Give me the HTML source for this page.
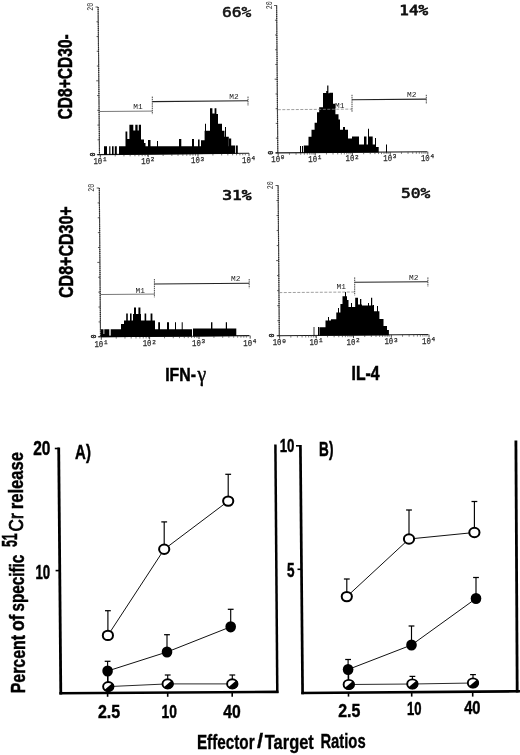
<!DOCTYPE html>
<html lang="en"><head><meta charset="utf-8"><title>Figure</title>
<style>html,body{margin:0;padding:0;background:#fff}svg{display:block;filter:blur(0.35px)}</style></head><body>
<svg width="520" height="755" viewBox="0 0 520 755">
<rect width="520" height="755" fill="#fff"/>
<line x1="98.10" y1="7.00" x2="99.50" y2="154.60" stroke="#666" stroke-width="1.1" />
<line x1="98.10" y1="7.00" x2="99.50" y2="154.60" stroke="#222" stroke-width="1.1" stroke-dasharray="1 1.1"/>
<line x1="95.50" y1="7.00" x2="98.10" y2="7.00" stroke="#333" stroke-width="0.8" />
<line x1="96.44" y1="21.76" x2="98.24" y2="21.76" stroke="#333" stroke-width="0.8" />
<line x1="96.58" y1="36.52" x2="98.38" y2="36.52" stroke="#333" stroke-width="0.8" />
<line x1="96.72" y1="51.28" x2="98.52" y2="51.28" stroke="#333" stroke-width="0.8" />
<line x1="96.86" y1="66.04" x2="98.66" y2="66.04" stroke="#333" stroke-width="0.8" />
<line x1="96.20" y1="80.80" x2="98.80" y2="80.80" stroke="#333" stroke-width="0.8" />
<line x1="97.14" y1="95.56" x2="98.94" y2="95.56" stroke="#333" stroke-width="0.8" />
<line x1="97.28" y1="110.32" x2="99.08" y2="110.32" stroke="#333" stroke-width="0.8" />
<line x1="97.42" y1="125.08" x2="99.22" y2="125.08" stroke="#333" stroke-width="0.8" />
<line x1="97.56" y1="139.84" x2="99.36" y2="139.84" stroke="#333" stroke-width="0.8" />
<line x1="96.90" y1="154.60" x2="99.50" y2="154.60" stroke="#333" stroke-width="0.8" />
<line x1="97.50" y1="154.62" x2="249.00" y2="153.18" stroke="#1a1a1a" stroke-width="1.1" />
<line x1="115.22" y1="154.45" x2="115.22" y2="156.45" stroke="#444" stroke-width="0.7" />
<line x1="123.95" y1="154.37" x2="123.95" y2="156.37" stroke="#444" stroke-width="0.7" />
<line x1="130.14" y1="154.31" x2="130.14" y2="156.31" stroke="#444" stroke-width="0.7" />
<line x1="134.95" y1="154.26" x2="134.95" y2="156.26" stroke="#444" stroke-width="0.7" />
<line x1="138.87" y1="154.23" x2="138.87" y2="156.23" stroke="#444" stroke-width="0.7" />
<line x1="142.19" y1="154.19" x2="142.19" y2="156.19" stroke="#444" stroke-width="0.7" />
<line x1="145.06" y1="154.17" x2="145.06" y2="156.17" stroke="#444" stroke-width="0.7" />
<line x1="147.60" y1="154.14" x2="147.60" y2="156.14" stroke="#444" stroke-width="0.7" />
<line x1="163.12" y1="154.00" x2="163.12" y2="156.00" stroke="#444" stroke-width="0.7" />
<line x1="171.85" y1="153.91" x2="171.85" y2="155.91" stroke="#444" stroke-width="0.7" />
<line x1="178.04" y1="153.85" x2="178.04" y2="155.85" stroke="#444" stroke-width="0.7" />
<line x1="182.85" y1="153.81" x2="182.85" y2="155.81" stroke="#444" stroke-width="0.7" />
<line x1="186.77" y1="153.77" x2="186.77" y2="155.77" stroke="#444" stroke-width="0.7" />
<line x1="190.09" y1="153.74" x2="190.09" y2="155.74" stroke="#444" stroke-width="0.7" />
<line x1="192.96" y1="153.71" x2="192.96" y2="155.71" stroke="#444" stroke-width="0.7" />
<line x1="195.50" y1="153.69" x2="195.50" y2="155.69" stroke="#444" stroke-width="0.7" />
<line x1="212.92" y1="153.52" x2="212.92" y2="155.52" stroke="#444" stroke-width="0.7" />
<line x1="221.65" y1="153.44" x2="221.65" y2="155.44" stroke="#444" stroke-width="0.7" />
<line x1="227.84" y1="153.38" x2="227.84" y2="155.38" stroke="#444" stroke-width="0.7" />
<line x1="232.65" y1="153.34" x2="232.65" y2="155.34" stroke="#444" stroke-width="0.7" />
<line x1="236.57" y1="153.30" x2="236.57" y2="155.30" stroke="#444" stroke-width="0.7" />
<line x1="239.89" y1="153.27" x2="239.89" y2="155.27" stroke="#444" stroke-width="0.7" />
<line x1="242.76" y1="153.24" x2="242.76" y2="155.24" stroke="#444" stroke-width="0.7" />
<line x1="245.30" y1="153.21" x2="245.30" y2="155.21" stroke="#444" stroke-width="0.7" />
<line x1="100.30" y1="154.59" x2="100.30" y2="157.59" stroke="#333" stroke-width="0.9" />
<line x1="148.20" y1="154.14" x2="148.20" y2="157.14" stroke="#333" stroke-width="0.9" />
<line x1="198.00" y1="153.66" x2="198.00" y2="156.66" stroke="#333" stroke-width="0.9" />
<line x1="249.00" y1="153.18" x2="249.00" y2="156.18" stroke="#333" stroke-width="0.9" />
<text x="93.4" y="164.2" font-family="'Liberation Mono', monospace" font-size="9" fill="#2a2a2a" stroke="#2a2a2a" stroke-width="0.25"><tspan textLength="8.8" lengthAdjust="spacingAndGlyphs">10</tspan><tspan x="102.9" dy="-2.8" font-size="6">1</tspan></text>
<text x="141.3" y="163.7" font-family="'Liberation Mono', monospace" font-size="9" fill="#2a2a2a" stroke="#2a2a2a" stroke-width="0.25"><tspan textLength="8.8" lengthAdjust="spacingAndGlyphs">10</tspan><tspan x="150.8" dy="-2.8" font-size="6">2</tspan></text>
<text x="191.1" y="163.3" font-family="'Liberation Mono', monospace" font-size="9" fill="#2a2a2a" stroke="#2a2a2a" stroke-width="0.25"><tspan textLength="8.8" lengthAdjust="spacingAndGlyphs">10</tspan><tspan x="200.6" dy="-2.8" font-size="6">3</tspan></text>
<text x="242.1" y="162.8" font-family="'Liberation Mono', monospace" font-size="9" fill="#2a2a2a" stroke="#2a2a2a" stroke-width="0.25"><tspan textLength="8.8" lengthAdjust="spacingAndGlyphs">10</tspan><tspan x="251.6" dy="-2.8" font-size="6">4</tspan></text>
<text transform="matrix(0.0000 -0.0333 0.0426 0.0000 93.0125 10.8000)" font-family="'Liberation Mono', monospace" font-size="200" font-weight="normal" fill="#333">20</text>
<text transform="matrix(0.0000 -0.0333 0.0382 0.0000 94.6235 156.4000)" font-family="'Liberation Mono', monospace" font-size="200" font-weight="normal" fill="#222" stroke="#222" stroke-width="11.18">0</text>
<path d="M104.00 154.96L104.00 146.30L107.00 146.30L107.00 154.93ZM109.20 154.91L109.20 146.30L110.40 146.30L110.40 154.90ZM112.00 154.88L112.00 146.30L113.60 146.30L113.60 154.87ZM114.80 154.85L114.80 146.30L116.80 146.30L116.80 154.84ZM119.00 154.81L119.00 146.30L125.50 146.30L125.50 131.50L127.30 131.50L127.30 139.00L129.40 139.00L129.40 124.80L133.30 124.80L133.30 130.50L135.30 130.50L135.30 124.80L137.60 124.80L137.60 130.50L138.80 130.50L138.80 124.80L141.00 124.80L141.00 139.50L144.00 139.50L144.00 143.00L145.50 143.00L145.50 146.30L148.00 146.30L148.00 140.00L150.50 140.00L150.50 146.30L157.00 146.30L157.00 141.00L158.00 141.00L158.00 146.30L179.00 146.30L179.00 139.00L181.30 139.00L181.30 146.30L192.00 146.30L192.00 139.00L194.00 139.00L194.00 146.30L198.00 146.30L198.00 139.50L199.60 139.50L199.60 146.30L201.00 146.30L201.00 140.20L204.60 140.20L204.60 130.70L205.00 130.70L205.00 123.70L206.00 123.70L206.00 130.70L210.00 130.70L210.00 108.20L212.40 108.20L212.40 113.40L214.60 113.40L214.60 108.20L216.40 108.20L216.40 114.00L218.00 114.00L218.00 123.70L222.00 123.70L222.00 130.70L224.50 130.70L224.50 136.70L225.00 136.70L225.00 127.00L226.00 127.00L226.00 136.70L228.80 136.70L228.80 146.30L229.00 146.30L229.00 138.40L231.20 138.40L231.20 145.40L235.00 145.40L235.00 153.71ZM235.80 153.71L235.80 145.40L237.80 145.40L237.80 153.69Z" fill="#000"/>
<line x1="99.50" y1="111.51" x2="152.30" y2="111.09" stroke="#555" stroke-width="0.8" />
<line x1="152.30" y1="101.58" x2="248.00" y2="100.82" stroke="#222" stroke-width="1.1" />
<line x1="152.30" y1="96.60" x2="152.30" y2="114.30" stroke="#333" stroke-width="0.9" stroke-dasharray="1.5 0.7"/>
<line x1="248.00" y1="96.60" x2="248.00" y2="105.80" stroke="#333" stroke-width="0.9" stroke-dasharray="1.5 0.7"/>
<text x="133.2" y="109.2" font-family="'Liberation Mono', monospace" font-size="7" fill="#222" textLength="9.4" lengthAdjust="spacingAndGlyphs">M1</text>
<text x="229.2" y="98.8" font-family="'Liberation Mono', monospace" font-size="7" fill="#222" textLength="9.4" lengthAdjust="spacingAndGlyphs">M2</text>
<text transform="matrix(0.0816 0.0000 0.0000 0.0659 221.8750 16.5273)" font-family="'DejaVu Sans Mono', monospace" font-size="200" font-weight="normal" fill="#111" stroke="#111" stroke-width="7.46">66%</text>
<line x1="276.62" y1="5.50" x2="277.80" y2="152.90" stroke="#666" stroke-width="1.1" />
<line x1="276.62" y1="5.50" x2="277.80" y2="152.90" stroke="#222" stroke-width="1.1" stroke-dasharray="1 1.1"/>
<line x1="274.02" y1="5.50" x2="276.62" y2="5.50" stroke="#333" stroke-width="0.8" />
<line x1="274.94" y1="20.24" x2="276.74" y2="20.24" stroke="#333" stroke-width="0.8" />
<line x1="275.06" y1="34.98" x2="276.86" y2="34.98" stroke="#333" stroke-width="0.8" />
<line x1="275.17" y1="49.72" x2="276.97" y2="49.72" stroke="#333" stroke-width="0.8" />
<line x1="275.29" y1="64.46" x2="277.09" y2="64.46" stroke="#333" stroke-width="0.8" />
<line x1="274.61" y1="79.20" x2="277.21" y2="79.20" stroke="#333" stroke-width="0.8" />
<line x1="275.53" y1="93.94" x2="277.33" y2="93.94" stroke="#333" stroke-width="0.8" />
<line x1="275.65" y1="108.68" x2="277.45" y2="108.68" stroke="#333" stroke-width="0.8" />
<line x1="275.76" y1="123.42" x2="277.56" y2="123.42" stroke="#333" stroke-width="0.8" />
<line x1="275.88" y1="138.16" x2="277.68" y2="138.16" stroke="#333" stroke-width="0.8" />
<line x1="275.20" y1="152.90" x2="277.80" y2="152.90" stroke="#333" stroke-width="0.8" />
<line x1="275.80" y1="152.92" x2="427.30" y2="151.70" stroke="#1a1a1a" stroke-width="1.1" />
<line x1="289.46" y1="152.81" x2="289.46" y2="154.81" stroke="#444" stroke-width="0.7" />
<line x1="296.04" y1="152.75" x2="296.04" y2="154.75" stroke="#444" stroke-width="0.7" />
<line x1="300.72" y1="152.72" x2="300.72" y2="154.72" stroke="#444" stroke-width="0.7" />
<line x1="304.34" y1="152.69" x2="304.34" y2="154.69" stroke="#444" stroke-width="0.7" />
<line x1="307.30" y1="152.66" x2="307.30" y2="154.66" stroke="#444" stroke-width="0.7" />
<line x1="309.81" y1="152.64" x2="309.81" y2="154.64" stroke="#444" stroke-width="0.7" />
<line x1="311.98" y1="152.63" x2="311.98" y2="154.63" stroke="#444" stroke-width="0.7" />
<line x1="313.89" y1="152.61" x2="313.89" y2="154.61" stroke="#444" stroke-width="0.7" />
<line x1="326.46" y1="152.51" x2="326.46" y2="154.51" stroke="#444" stroke-width="0.7" />
<line x1="333.04" y1="152.46" x2="333.04" y2="154.46" stroke="#444" stroke-width="0.7" />
<line x1="337.72" y1="152.42" x2="337.72" y2="154.42" stroke="#444" stroke-width="0.7" />
<line x1="341.34" y1="152.39" x2="341.34" y2="154.39" stroke="#444" stroke-width="0.7" />
<line x1="344.30" y1="152.37" x2="344.30" y2="154.37" stroke="#444" stroke-width="0.7" />
<line x1="346.81" y1="152.35" x2="346.81" y2="154.35" stroke="#444" stroke-width="0.7" />
<line x1="348.98" y1="152.33" x2="348.98" y2="154.33" stroke="#444" stroke-width="0.7" />
<line x1="350.89" y1="152.32" x2="350.89" y2="154.32" stroke="#444" stroke-width="0.7" />
<line x1="363.66" y1="152.21" x2="363.66" y2="154.21" stroke="#444" stroke-width="0.7" />
<line x1="370.24" y1="152.16" x2="370.24" y2="154.16" stroke="#444" stroke-width="0.7" />
<line x1="374.92" y1="152.12" x2="374.92" y2="154.12" stroke="#444" stroke-width="0.7" />
<line x1="378.54" y1="152.09" x2="378.54" y2="154.09" stroke="#444" stroke-width="0.7" />
<line x1="381.50" y1="152.07" x2="381.50" y2="154.07" stroke="#444" stroke-width="0.7" />
<line x1="384.01" y1="152.05" x2="384.01" y2="154.05" stroke="#444" stroke-width="0.7" />
<line x1="386.18" y1="152.03" x2="386.18" y2="154.03" stroke="#444" stroke-width="0.7" />
<line x1="388.09" y1="152.02" x2="388.09" y2="154.02" stroke="#444" stroke-width="0.7" />
<line x1="401.46" y1="151.91" x2="401.46" y2="153.91" stroke="#444" stroke-width="0.7" />
<line x1="408.04" y1="151.86" x2="408.04" y2="153.86" stroke="#444" stroke-width="0.7" />
<line x1="412.72" y1="151.82" x2="412.72" y2="153.82" stroke="#444" stroke-width="0.7" />
<line x1="416.34" y1="151.79" x2="416.34" y2="153.79" stroke="#444" stroke-width="0.7" />
<line x1="419.30" y1="151.77" x2="419.30" y2="153.77" stroke="#444" stroke-width="0.7" />
<line x1="421.81" y1="151.75" x2="421.81" y2="153.75" stroke="#444" stroke-width="0.7" />
<line x1="423.98" y1="151.73" x2="423.98" y2="153.73" stroke="#444" stroke-width="0.7" />
<line x1="425.89" y1="151.72" x2="425.89" y2="153.72" stroke="#444" stroke-width="0.7" />
<line x1="278.20" y1="152.90" x2="278.20" y2="155.90" stroke="#333" stroke-width="0.9" />
<line x1="315.20" y1="152.60" x2="315.20" y2="155.60" stroke="#333" stroke-width="0.9" />
<line x1="352.40" y1="152.30" x2="352.40" y2="155.30" stroke="#333" stroke-width="0.9" />
<line x1="390.20" y1="152.00" x2="390.20" y2="155.00" stroke="#333" stroke-width="0.9" />
<line x1="427.80" y1="151.70" x2="427.80" y2="154.70" stroke="#333" stroke-width="0.9" />
<text x="271.3" y="161.9" font-family="'Liberation Mono', monospace" font-size="9" fill="#2a2a2a" stroke="#2a2a2a" stroke-width="0.25"><tspan textLength="8.8" lengthAdjust="spacingAndGlyphs">10</tspan><tspan x="280.8" dy="-2.8" font-size="6">0</tspan></text>
<text x="308.3" y="161.6" font-family="'Liberation Mono', monospace" font-size="9" fill="#2a2a2a" stroke="#2a2a2a" stroke-width="0.25"><tspan textLength="8.8" lengthAdjust="spacingAndGlyphs">10</tspan><tspan x="317.8" dy="-2.8" font-size="6">1</tspan></text>
<text x="345.5" y="161.3" font-family="'Liberation Mono', monospace" font-size="9" fill="#2a2a2a" stroke="#2a2a2a" stroke-width="0.25"><tspan textLength="8.8" lengthAdjust="spacingAndGlyphs">10</tspan><tspan x="355.0" dy="-2.8" font-size="6">2</tspan></text>
<text x="383.3" y="161.0" font-family="'Liberation Mono', monospace" font-size="9" fill="#2a2a2a" stroke="#2a2a2a" stroke-width="0.25"><tspan textLength="8.8" lengthAdjust="spacingAndGlyphs">10</tspan><tspan x="392.8" dy="-2.8" font-size="6">3</tspan></text>
<text x="420.9" y="160.7" font-family="'Liberation Mono', monospace" font-size="9" fill="#2a2a2a" stroke="#2a2a2a" stroke-width="0.25"><tspan textLength="8.8" lengthAdjust="spacingAndGlyphs">10</tspan><tspan x="430.4" dy="-2.8" font-size="6">4</tspan></text>
<text transform="matrix(0.0000 -0.0333 0.0426 0.0000 271.5355 9.3000)" font-family="'Liberation Mono', monospace" font-size="200" font-weight="normal" fill="#333">20</text>
<text transform="matrix(0.0000 -0.0333 0.0382 0.0000 272.9235 154.7000)" font-family="'Liberation Mono', monospace" font-size="200" font-weight="normal" fill="#222" stroke="#222" stroke-width="11.18">0</text>
<path d="M300.00 153.12L300.00 146.00L301.00 146.00L301.00 153.11ZM302.00 153.11L302.00 146.00L303.00 146.00L303.00 153.10ZM303.80 153.09L303.80 145.50L308.50 145.50L308.50 136.80L311.50 136.80L311.50 129.70L314.60 129.70L314.60 122.80L317.00 122.80L317.00 112.20L319.20 112.20L319.20 107.20L323.00 107.20L323.00 93.00L326.20 93.00L326.20 91.00L327.20 91.00L327.20 85.40L328.40 85.40L328.40 93.20L329.40 93.20L329.40 92.80L333.00 92.80L333.00 103.80L335.40 103.80L335.40 114.20L338.50 114.20L338.50 119.60L340.00 119.60L340.00 129.70L343.00 129.70L343.00 127.00L345.00 127.00L345.00 129.70L348.00 129.70L348.00 138.40L352.00 138.40L352.00 136.60L359.00 136.60L359.00 144.40L364.00 144.40L364.00 136.60L366.50 136.60L366.50 144.40L368.00 144.40L368.00 128.80L369.00 128.80L369.00 136.60L372.70 136.60L372.70 144.40L375.00 144.40L375.00 138.00L376.00 138.00L376.00 147.00L378.70 147.00L378.70 152.49ZM386.00 152.43L386.00 144.40L387.00 144.40L387.00 152.43Z" fill="#000"/>
<line x1="277.80" y1="109.70" x2="352.00" y2="109.10" stroke="#888" stroke-width="0.8" stroke-dasharray="3 1.5"/>
<line x1="352.00" y1="99.70" x2="426.30" y2="99.10" stroke="#222" stroke-width="1.1" />
<line x1="352.00" y1="94.80" x2="352.00" y2="112.40" stroke="#333" stroke-width="0.9" stroke-dasharray="1.5 0.7"/>
<line x1="426.30" y1="94.80" x2="426.30" y2="104.00" stroke="#333" stroke-width="0.9" stroke-dasharray="1.5 0.7"/>
<text x="335" y="107.8" font-family="'Liberation Mono', monospace" font-size="7" fill="#222" textLength="9.4" lengthAdjust="spacingAndGlyphs">M1</text>
<text x="407" y="97.2" font-family="'Liberation Mono', monospace" font-size="7" fill="#222" textLength="9.4" lengthAdjust="spacingAndGlyphs">M2</text>
<text transform="matrix(0.0801 0.0000 0.0000 0.0747 399.3000 15.2000)" font-family="'DejaVu Sans Mono', monospace" font-size="200" font-weight="normal" fill="#111" stroke="#111" stroke-width="10.34">14%</text>
<line x1="99.31" y1="188.00" x2="100.50" y2="336.80" stroke="#666" stroke-width="1.1" />
<line x1="99.31" y1="188.00" x2="100.50" y2="336.80" stroke="#222" stroke-width="1.1" stroke-dasharray="1 1.1"/>
<line x1="96.71" y1="188.00" x2="99.31" y2="188.00" stroke="#333" stroke-width="0.8" />
<line x1="97.63" y1="202.88" x2="99.43" y2="202.88" stroke="#333" stroke-width="0.8" />
<line x1="97.75" y1="217.76" x2="99.55" y2="217.76" stroke="#333" stroke-width="0.8" />
<line x1="97.87" y1="232.64" x2="99.67" y2="232.64" stroke="#333" stroke-width="0.8" />
<line x1="97.99" y1="247.52" x2="99.79" y2="247.52" stroke="#333" stroke-width="0.8" />
<line x1="97.30" y1="262.40" x2="99.90" y2="262.40" stroke="#333" stroke-width="0.8" />
<line x1="98.22" y1="277.28" x2="100.02" y2="277.28" stroke="#333" stroke-width="0.8" />
<line x1="98.34" y1="292.16" x2="100.14" y2="292.16" stroke="#333" stroke-width="0.8" />
<line x1="98.46" y1="307.04" x2="100.26" y2="307.04" stroke="#333" stroke-width="0.8" />
<line x1="98.58" y1="321.92" x2="100.38" y2="321.92" stroke="#333" stroke-width="0.8" />
<line x1="97.90" y1="336.80" x2="100.50" y2="336.80" stroke="#333" stroke-width="0.8" />
<line x1="98.50" y1="336.82" x2="249.50" y2="335.61" stroke="#1a1a1a" stroke-width="1.1" />
<line x1="116.24" y1="336.67" x2="116.24" y2="338.67" stroke="#444" stroke-width="0.7" />
<line x1="124.98" y1="336.60" x2="124.98" y2="338.60" stroke="#444" stroke-width="0.7" />
<line x1="131.18" y1="336.55" x2="131.18" y2="338.55" stroke="#444" stroke-width="0.7" />
<line x1="135.99" y1="336.52" x2="135.99" y2="338.52" stroke="#444" stroke-width="0.7" />
<line x1="139.92" y1="336.48" x2="139.92" y2="338.48" stroke="#444" stroke-width="0.7" />
<line x1="143.25" y1="336.46" x2="143.25" y2="338.46" stroke="#444" stroke-width="0.7" />
<line x1="146.12" y1="336.44" x2="146.12" y2="338.44" stroke="#444" stroke-width="0.7" />
<line x1="148.66" y1="336.41" x2="148.66" y2="338.41" stroke="#444" stroke-width="0.7" />
<line x1="164.54" y1="336.29" x2="164.54" y2="338.29" stroke="#444" stroke-width="0.7" />
<line x1="173.28" y1="336.22" x2="173.28" y2="338.22" stroke="#444" stroke-width="0.7" />
<line x1="179.48" y1="336.17" x2="179.48" y2="338.17" stroke="#444" stroke-width="0.7" />
<line x1="184.29" y1="336.13" x2="184.29" y2="338.13" stroke="#444" stroke-width="0.7" />
<line x1="188.22" y1="336.10" x2="188.22" y2="338.10" stroke="#444" stroke-width="0.7" />
<line x1="191.55" y1="336.07" x2="191.55" y2="338.07" stroke="#444" stroke-width="0.7" />
<line x1="194.42" y1="336.05" x2="194.42" y2="338.05" stroke="#444" stroke-width="0.7" />
<line x1="196.96" y1="336.03" x2="196.96" y2="338.03" stroke="#444" stroke-width="0.7" />
<line x1="213.94" y1="335.89" x2="213.94" y2="337.89" stroke="#444" stroke-width="0.7" />
<line x1="222.68" y1="335.82" x2="222.68" y2="337.82" stroke="#444" stroke-width="0.7" />
<line x1="228.88" y1="335.77" x2="228.88" y2="337.77" stroke="#444" stroke-width="0.7" />
<line x1="233.69" y1="335.73" x2="233.69" y2="337.73" stroke="#444" stroke-width="0.7" />
<line x1="237.62" y1="335.70" x2="237.62" y2="337.70" stroke="#444" stroke-width="0.7" />
<line x1="240.95" y1="335.68" x2="240.95" y2="337.68" stroke="#444" stroke-width="0.7" />
<line x1="243.82" y1="335.65" x2="243.82" y2="337.65" stroke="#444" stroke-width="0.7" />
<line x1="246.36" y1="335.63" x2="246.36" y2="337.63" stroke="#444" stroke-width="0.7" />
<line x1="101.30" y1="336.79" x2="101.30" y2="339.79" stroke="#333" stroke-width="0.9" />
<line x1="149.60" y1="336.41" x2="149.60" y2="339.41" stroke="#333" stroke-width="0.9" />
<line x1="199.00" y1="336.01" x2="199.00" y2="339.01" stroke="#333" stroke-width="0.9" />
<line x1="250.20" y1="335.60" x2="250.20" y2="338.60" stroke="#333" stroke-width="0.9" />
<text x="94.4" y="346.8" font-family="'Liberation Mono', monospace" font-size="9" fill="#2a2a2a" stroke="#2a2a2a" stroke-width="0.25"><tspan textLength="8.8" lengthAdjust="spacingAndGlyphs">10</tspan><tspan x="103.9" dy="-2.8" font-size="6">1</tspan></text>
<text x="142.7" y="346.4" font-family="'Liberation Mono', monospace" font-size="9" fill="#2a2a2a" stroke="#2a2a2a" stroke-width="0.25"><tspan textLength="8.8" lengthAdjust="spacingAndGlyphs">10</tspan><tspan x="152.2" dy="-2.8" font-size="6">2</tspan></text>
<text x="192.1" y="346.0" font-family="'Liberation Mono', monospace" font-size="9" fill="#2a2a2a" stroke="#2a2a2a" stroke-width="0.25"><tspan textLength="8.8" lengthAdjust="spacingAndGlyphs">10</tspan><tspan x="201.6" dy="-2.8" font-size="6">3</tspan></text>
<text x="243.3" y="345.6" font-family="'Liberation Mono', monospace" font-size="9" fill="#2a2a2a" stroke="#2a2a2a" stroke-width="0.25"><tspan textLength="8.8" lengthAdjust="spacingAndGlyphs">10</tspan><tspan x="252.8" dy="-2.8" font-size="6">4</tspan></text>
<text transform="matrix(0.0000 -0.0333 0.0426 0.0000 94.2243 191.8000)" font-family="'Liberation Mono', monospace" font-size="200" font-weight="normal" fill="#333">20</text>
<text transform="matrix(0.0000 -0.0333 0.0382 0.0000 95.6235 338.6000)" font-family="'Liberation Mono', monospace" font-size="200" font-weight="normal" fill="#222" stroke="#222" stroke-width="11.18">0</text>
<path d="M101.00 337.20L101.00 329.20L121.00 329.20L121.00 324.00L124.00 324.00L124.00 320.50L126.20 320.50L126.20 313.60L127.80 313.60L127.80 320.50L130.00 320.50L130.00 313.60L131.60 313.60L131.60 320.50L133.00 320.50L133.00 314.00L134.00 314.00L134.00 307.60L136.00 307.60L136.00 314.00L138.40 314.00L138.40 307.60L140.40 307.60L140.40 314.00L141.00 314.00L141.00 320.50L144.60 320.50L144.60 313.60L146.20 313.60L146.20 320.50L150.60 320.50L150.60 313.60L152.40 313.60L152.40 320.50L155.00 320.50L155.00 329.20L158.20 329.20L158.20 322.30L160.00 322.30L160.00 329.20L167.00 329.20L167.00 322.30L169.00 322.30L169.00 329.20L175.00 329.20L175.00 322.30L176.00 322.30L176.00 329.20L181.70 329.20L181.70 322.30L182.70 322.30L182.70 329.20L192.00 329.20L192.00 336.47ZM193.00 336.46L193.00 328.60L211.00 328.60L211.00 322.30L212.40 322.30L212.40 328.60L225.80 328.60L225.80 322.30L227.00 322.30L227.00 328.60L236.30 328.60L236.30 336.11Z" fill="#000"/>
<rect x="103.50" y="329.00" width="0.80" height="5.00" fill="#fff"/>
<rect x="109.30" y="329.00" width="1.40" height="6.60" fill="#fff"/>
<rect x="192.00" y="328.00" width="1.00" height="7.60" fill="#fff"/>
<line x1="100.50" y1="294.52" x2="154.40" y2="294.08" stroke="#555" stroke-width="0.8" />
<line x1="154.40" y1="283.98" x2="249.20" y2="283.22" stroke="#222" stroke-width="1.1" />
<line x1="154.40" y1="279.00" x2="154.40" y2="297.30" stroke="#333" stroke-width="0.9" stroke-dasharray="1.5 0.7"/>
<line x1="249.20" y1="279.00" x2="249.20" y2="288.20" stroke="#333" stroke-width="0.9" stroke-dasharray="1.5 0.7"/>
<text x="135.5" y="293" font-family="'Liberation Mono', monospace" font-size="7" fill="#222" textLength="9.4" lengthAdjust="spacingAndGlyphs">M1</text>
<text x="231" y="281.4" font-family="'Liberation Mono', monospace" font-size="7" fill="#222" textLength="9.4" lengthAdjust="spacingAndGlyphs">M2</text>
<text transform="matrix(0.0812 0.0000 0.0000 0.0702 222.3000 199.6894)" font-family="'DejaVu Sans Mono', monospace" font-size="200" font-weight="normal" fill="#111" stroke="#111" stroke-width="10.57">31%</text>
<line x1="278.10" y1="185.50" x2="279.30" y2="335.70" stroke="#666" stroke-width="1.1" />
<line x1="278.10" y1="185.50" x2="279.30" y2="335.70" stroke="#222" stroke-width="1.1" stroke-dasharray="1 1.1"/>
<line x1="275.50" y1="185.50" x2="278.10" y2="185.50" stroke="#333" stroke-width="0.8" />
<line x1="276.42" y1="200.52" x2="278.22" y2="200.52" stroke="#333" stroke-width="0.8" />
<line x1="276.54" y1="215.54" x2="278.34" y2="215.54" stroke="#333" stroke-width="0.8" />
<line x1="276.66" y1="230.56" x2="278.46" y2="230.56" stroke="#333" stroke-width="0.8" />
<line x1="276.78" y1="245.58" x2="278.58" y2="245.58" stroke="#333" stroke-width="0.8" />
<line x1="276.10" y1="260.60" x2="278.70" y2="260.60" stroke="#333" stroke-width="0.8" />
<line x1="277.02" y1="275.62" x2="278.82" y2="275.62" stroke="#333" stroke-width="0.8" />
<line x1="277.14" y1="290.64" x2="278.94" y2="290.64" stroke="#333" stroke-width="0.8" />
<line x1="277.26" y1="305.66" x2="279.06" y2="305.66" stroke="#333" stroke-width="0.8" />
<line x1="277.38" y1="320.68" x2="279.18" y2="320.68" stroke="#333" stroke-width="0.8" />
<line x1="276.70" y1="335.70" x2="279.30" y2="335.70" stroke="#333" stroke-width="0.8" />
<line x1="277.30" y1="335.72" x2="428.40" y2="334.51" stroke="#1a1a1a" stroke-width="1.1" />
<line x1="290.84" y1="335.61" x2="290.84" y2="337.61" stroke="#444" stroke-width="0.7" />
<line x1="297.42" y1="335.56" x2="297.42" y2="337.56" stroke="#444" stroke-width="0.7" />
<line x1="302.09" y1="335.52" x2="302.09" y2="337.52" stroke="#444" stroke-width="0.7" />
<line x1="305.71" y1="335.49" x2="305.71" y2="337.49" stroke="#444" stroke-width="0.7" />
<line x1="308.66" y1="335.47" x2="308.66" y2="337.47" stroke="#444" stroke-width="0.7" />
<line x1="311.16" y1="335.45" x2="311.16" y2="337.45" stroke="#444" stroke-width="0.7" />
<line x1="313.33" y1="335.43" x2="313.33" y2="337.43" stroke="#444" stroke-width="0.7" />
<line x1="315.24" y1="335.41" x2="315.24" y2="337.41" stroke="#444" stroke-width="0.7" />
<line x1="327.54" y1="335.31" x2="327.54" y2="337.31" stroke="#444" stroke-width="0.7" />
<line x1="334.12" y1="335.26" x2="334.12" y2="337.26" stroke="#444" stroke-width="0.7" />
<line x1="338.79" y1="335.22" x2="338.79" y2="337.22" stroke="#444" stroke-width="0.7" />
<line x1="342.41" y1="335.20" x2="342.41" y2="337.20" stroke="#444" stroke-width="0.7" />
<line x1="345.36" y1="335.17" x2="345.36" y2="337.17" stroke="#444" stroke-width="0.7" />
<line x1="347.86" y1="335.15" x2="347.86" y2="337.15" stroke="#444" stroke-width="0.7" />
<line x1="350.03" y1="335.13" x2="350.03" y2="337.13" stroke="#444" stroke-width="0.7" />
<line x1="351.94" y1="335.12" x2="351.94" y2="337.12" stroke="#444" stroke-width="0.7" />
<line x1="364.74" y1="335.02" x2="364.74" y2="337.02" stroke="#444" stroke-width="0.7" />
<line x1="371.32" y1="334.96" x2="371.32" y2="336.96" stroke="#444" stroke-width="0.7" />
<line x1="375.99" y1="334.93" x2="375.99" y2="336.93" stroke="#444" stroke-width="0.7" />
<line x1="379.61" y1="334.90" x2="379.61" y2="336.90" stroke="#444" stroke-width="0.7" />
<line x1="382.56" y1="334.87" x2="382.56" y2="336.87" stroke="#444" stroke-width="0.7" />
<line x1="385.06" y1="334.85" x2="385.06" y2="336.85" stroke="#444" stroke-width="0.7" />
<line x1="387.23" y1="334.84" x2="387.23" y2="336.84" stroke="#444" stroke-width="0.7" />
<line x1="389.14" y1="334.82" x2="389.14" y2="336.82" stroke="#444" stroke-width="0.7" />
<line x1="402.54" y1="334.71" x2="402.54" y2="336.71" stroke="#444" stroke-width="0.7" />
<line x1="409.12" y1="334.66" x2="409.12" y2="336.66" stroke="#444" stroke-width="0.7" />
<line x1="413.79" y1="334.62" x2="413.79" y2="336.62" stroke="#444" stroke-width="0.7" />
<line x1="417.41" y1="334.60" x2="417.41" y2="336.60" stroke="#444" stroke-width="0.7" />
<line x1="420.36" y1="334.57" x2="420.36" y2="336.57" stroke="#444" stroke-width="0.7" />
<line x1="422.86" y1="334.55" x2="422.86" y2="336.55" stroke="#444" stroke-width="0.7" />
<line x1="425.03" y1="334.53" x2="425.03" y2="336.53" stroke="#444" stroke-width="0.7" />
<line x1="426.94" y1="334.52" x2="426.94" y2="336.52" stroke="#444" stroke-width="0.7" />
<line x1="279.60" y1="335.70" x2="279.60" y2="338.70" stroke="#333" stroke-width="0.9" />
<line x1="316.30" y1="335.40" x2="316.30" y2="338.40" stroke="#333" stroke-width="0.9" />
<line x1="353.50" y1="335.11" x2="353.50" y2="338.11" stroke="#333" stroke-width="0.9" />
<line x1="391.30" y1="334.80" x2="391.30" y2="337.80" stroke="#333" stroke-width="0.9" />
<line x1="429.00" y1="334.50" x2="429.00" y2="337.50" stroke="#333" stroke-width="0.9" />
<text x="272.7" y="345.3" font-family="'Liberation Mono', monospace" font-size="9" fill="#2a2a2a" stroke="#2a2a2a" stroke-width="0.25"><tspan textLength="8.8" lengthAdjust="spacingAndGlyphs">10</tspan><tspan x="282.2" dy="-2.8" font-size="6">0</tspan></text>
<text x="309.4" y="345.0" font-family="'Liberation Mono', monospace" font-size="9" fill="#2a2a2a" stroke="#2a2a2a" stroke-width="0.25"><tspan textLength="8.8" lengthAdjust="spacingAndGlyphs">10</tspan><tspan x="318.9" dy="-2.8" font-size="6">1</tspan></text>
<text x="346.6" y="344.7" font-family="'Liberation Mono', monospace" font-size="9" fill="#2a2a2a" stroke="#2a2a2a" stroke-width="0.25"><tspan textLength="8.8" lengthAdjust="spacingAndGlyphs">10</tspan><tspan x="356.1" dy="-2.8" font-size="6">2</tspan></text>
<text x="384.4" y="344.4" font-family="'Liberation Mono', monospace" font-size="9" fill="#2a2a2a" stroke="#2a2a2a" stroke-width="0.25"><tspan textLength="8.8" lengthAdjust="spacingAndGlyphs">10</tspan><tspan x="393.9" dy="-2.8" font-size="6">3</tspan></text>
<text x="422.1" y="344.1" font-family="'Liberation Mono', monospace" font-size="9" fill="#2a2a2a" stroke="#2a2a2a" stroke-width="0.25"><tspan textLength="8.8" lengthAdjust="spacingAndGlyphs">10</tspan><tspan x="431.6" dy="-2.8" font-size="6">4</tspan></text>
<text transform="matrix(0.0000 -0.0333 0.0426 0.0000 273.0131 189.3000)" font-family="'Liberation Mono', monospace" font-size="200" font-weight="normal" fill="#333">20</text>
<text transform="matrix(0.0000 -0.0333 0.0382 0.0000 274.4235 337.5000)" font-family="'Liberation Mono', monospace" font-size="200" font-weight="normal" fill="#222" stroke="#222" stroke-width="11.18">0</text>
<path d="M313.60 335.83L313.60 327.00L314.40 327.00L314.40 335.82ZM318.00 335.79L318.00 327.00L319.00 327.00L319.00 335.78ZM319.40 335.78L319.40 327.30L325.50 327.30L325.50 320.60L328.00 320.60L328.00 317.00L329.00 317.00L329.00 320.60L331.00 320.60L331.00 319.20L336.30 319.20L336.30 312.50L338.00 312.50L338.00 308.00L339.00 308.00L339.00 312.50L340.40 312.50L340.40 304.00L342.50 304.00L342.50 296.30L345.00 296.30L345.00 292.00L346.00 292.00L346.00 296.30L347.00 296.30L347.00 300.00L348.50 300.00L348.50 307.00L351.00 307.00L351.00 303.00L352.00 303.00L352.00 307.00L355.20 307.00L355.20 297.70L358.00 297.70L358.00 304.40L360.00 304.40L360.00 299.00L361.30 299.00L361.30 304.40L362.00 304.40L362.00 305.50L368.00 305.50L368.00 303.00L369.00 303.00L369.00 305.50L371.00 305.50L371.00 297.70L372.20 297.70L372.20 305.50L372.70 305.50L372.70 305.00L374.00 305.00L374.00 311.20L377.00 311.20L377.00 306.00L378.00 306.00L378.00 311.20L379.40 311.20L379.40 319.00L383.50 319.00L383.50 326.00L387.00 326.00L387.00 330.00L388.90 330.00L388.90 335.22Z" fill="#000"/>
<line x1="279.30" y1="292.60" x2="354.70" y2="292.00" stroke="#888" stroke-width="0.8" stroke-dasharray="3 1.5"/>
<line x1="354.70" y1="282.29" x2="427.90" y2="281.71" stroke="#222" stroke-width="1.1" />
<line x1="354.70" y1="277.40" x2="354.70" y2="295.30" stroke="#333" stroke-width="0.9" stroke-dasharray="1.5 0.7"/>
<line x1="427.90" y1="277.40" x2="427.90" y2="286.60" stroke="#333" stroke-width="0.9" stroke-dasharray="1.5 0.7"/>
<text x="336.6" y="289" font-family="'Liberation Mono', monospace" font-size="7" fill="#222" textLength="9.4" lengthAdjust="spacingAndGlyphs">M1</text>
<text x="409" y="279.6" font-family="'Liberation Mono', monospace" font-size="7" fill="#222" textLength="9.4" lengthAdjust="spacingAndGlyphs">M2</text>
<text transform="matrix(0.0814 0.0000 0.0000 0.0715 400.9000 198.4854)" font-family="'DejaVu Sans Mono', monospace" font-size="200" font-weight="normal" fill="#111" stroke="#111" stroke-width="7.85">50%</text>
<text transform="matrix(0.0000 -0.0779 0.0982 0.0000 72.1785 119.4750)" font-family="'Liberation Sans', sans-serif" font-size="200" font-weight="bold" fill="#000" stroke="#000" stroke-width="5.11">CD8+CD30-</text>
<text transform="matrix(0.0000 -0.0801 0.0982 0.0000 72.6785 297.9750)" font-family="'Liberation Sans', sans-serif" font-size="200" font-weight="bold" fill="#000" stroke="#000" stroke-width="5.05">CD8+CD30+</text>
<text fill="#000"><tspan x="165.15" y="381.05" font-family="'Liberation Sans', sans-serif" font-weight="bold" font-size="19.28" textLength="30.78" lengthAdjust="spacingAndGlyphs" stroke="#000" stroke-width="0.5">IFN-</tspan><tspan x="197.52" y="380.90" font-family="'Liberation Serif', serif" font-weight="normal" font-size="20.37" textLength="8.69" lengthAdjust="spacingAndGlyphs" stroke="#000" stroke-width="0.45">γ</tspan></text>
<text transform="matrix(0.0787 0.0000 0.0000 0.0971 351.5500 380.2500)" font-family="'Liberation Sans', sans-serif" font-size="200" font-weight="bold" fill="#000" stroke="#000" stroke-width="5.69">IL-4</text>
<line x1="58.70" y1="447.40" x2="60.80" y2="694.50" stroke="#000" stroke-width="2.8" />
<line x1="59.40" y1="693.30" x2="278.50" y2="691.90" stroke="#000" stroke-width="2.6" />
<line x1="275.40" y1="444.60" x2="277.30" y2="693.10" stroke="#000" stroke-width="2.5" />
<line x1="54.80" y1="448.50" x2="59.00" y2="448.50" stroke="#000" stroke-width="1.6" />
<line x1="55.60" y1="570.60" x2="59.90" y2="570.60" stroke="#000" stroke-width="1.6" />
<line x1="300.40" y1="445.00" x2="302.60" y2="694.20" stroke="#000" stroke-width="2.7" />
<line x1="301.30" y1="693.00" x2="520.00" y2="691.30" stroke="#000" stroke-width="2.6" />
<line x1="515.90" y1="440.40" x2="517.20" y2="692.60" stroke="#000" stroke-width="2.8" />
<line x1="296.00" y1="445.80" x2="300.60" y2="445.80" stroke="#000" stroke-width="1.6" />
<line x1="297.50" y1="569.30" x2="301.60" y2="569.30" stroke="#000" stroke-width="1.6" />
<text transform="matrix(0.0775 0.0000 0.0000 0.0979 33.2000 455.3042)" font-family="'Liberation Sans', sans-serif" font-size="200" font-weight="bold" fill="#000" stroke="#000" stroke-width="4.56">20</text>
<text transform="matrix(0.0662 0.0000 0.0000 0.0993 35.5000 578.5014)" font-family="'Liberation Sans', sans-serif" font-size="200" font-weight="bold" fill="#000" stroke="#000" stroke-width="4.83">10</text>
<text transform="matrix(0.0749 0.0000 0.0000 0.1000 75.1000 459.0000)" font-family="'Liberation Sans', sans-serif" font-size="200" font-weight="bold" fill="#000" stroke="#000" stroke-width="4.57">A)</text>
<text transform="matrix(0.0662 0.0000 0.0000 0.0937 279.7000 451.9127)" font-family="'Liberation Sans', sans-serif" font-size="200" font-weight="bold" fill="#000" stroke="#000" stroke-width="5.00">10</text>
<text transform="matrix(0.0676 0.0000 0.0000 0.0964 287.1000 576.6071)" font-family="'Liberation Sans', sans-serif" font-size="200" font-weight="bold" fill="#000" stroke="#000" stroke-width="4.88">5</text>
<text transform="matrix(0.0678 0.0000 0.0000 0.1027 319.1000 455.6877)" font-family="'Liberation Sans', sans-serif" font-size="200" font-weight="bold" fill="#000" stroke="#000" stroke-width="4.69">B)</text>
<text transform="matrix(0.0799 0.0000 0.0000 0.0944 97.9000 717.6113)" font-family="'Liberation Sans', sans-serif" font-size="200" font-weight="bold" fill="#000" stroke="#000" stroke-width="4.59">2.5</text>
<text transform="matrix(0.0689 0.0000 0.0000 0.0944 161.5000 717.6113)" font-family="'Liberation Sans', sans-serif" font-size="200" font-weight="bold" fill="#000" stroke="#000" stroke-width="4.90">10</text>
<text transform="matrix(0.0784 0.0000 0.0000 0.0944 223.2000 717.6113)" font-family="'Liberation Sans', sans-serif" font-size="200" font-weight="bold" fill="#000" stroke="#000" stroke-width="4.63">40</text>
<text transform="matrix(0.0795 0.0000 0.0000 0.0901 338.2000 717.0197)" font-family="'Liberation Sans', sans-serif" font-size="200" font-weight="bold" fill="#000" stroke="#000" stroke-width="4.72">2.5</text>
<text transform="matrix(0.0653 0.0000 0.0000 0.0894 407.1000 714.9211)" font-family="'Liberation Sans', sans-serif" font-size="200" font-weight="bold" fill="#000" stroke="#000" stroke-width="5.17">10</text>
<text transform="matrix(0.0734 0.0000 0.0000 0.0894 464.2000 713.5211)" font-family="'Liberation Sans', sans-serif" font-size="200" font-weight="bold" fill="#000" stroke="#000" stroke-width="4.91">40</text>
<text fill="#000"><tspan x="196.88" y="748.53" font-family="'Liberation Sans', sans-serif" font-weight="bold" font-size="20.80" textLength="57.73" lengthAdjust="spacingAndGlyphs" stroke="#000" stroke-width="0.35">Effector</tspan><tspan x="256.95" y="748.45" font-family="'Liberation Sans', sans-serif" font-weight="bold" font-size="20.00" textLength="6.15" lengthAdjust="spacingAndGlyphs" stroke="#000" stroke-width="0.3">/</tspan><tspan x="264.78" y="748.53" font-family="'Liberation Sans', sans-serif" font-weight="bold" font-size="20.80" textLength="49.08" lengthAdjust="spacingAndGlyphs" stroke="#000" stroke-width="0.35">Target</tspan> <tspan x="320.38" y="747.83" font-family="'Liberation Sans', sans-serif" font-weight="bold" font-size="20.36" textLength="45.27" lengthAdjust="spacingAndGlyphs" stroke="#000" stroke-width="0.35">Ratios</tspan></text>
<text fill="#000" transform="rotate(-90)"><tspan x="-693.35" y="24.65" font-family="'Liberation Sans', sans-serif" font-weight="bold" font-size="20.72" textLength="58.48" lengthAdjust="spacingAndGlyphs" stroke="#000" stroke-width="0.5">Percent</tspan> <tspan x="-631.05" y="24.35" font-family="'Liberation Sans', sans-serif" font-weight="bold" font-size="20.58" textLength="16.38" lengthAdjust="spacingAndGlyphs" stroke="#000" stroke-width="0.5">of</tspan> <tspan x="-611.55" y="24.25" font-family="'Liberation Sans', sans-serif" font-weight="bold" font-size="20.87" textLength="56.89" lengthAdjust="spacingAndGlyphs" stroke="#000" stroke-width="0.5">specific</tspan> <tspan x="-547.05" y="16.84" font-family="'Liberation Sans', sans-serif" font-weight="bold" font-size="21.29" textLength="13.83" lengthAdjust="spacingAndGlyphs" stroke="#000" stroke-width="0.5">51</tspan><tspan x="-531.40" y="23.39" font-family="'Liberation Sans', sans-serif" font-weight="normal" font-size="20.70" textLength="18.00" lengthAdjust="spacingAndGlyphs" stroke="#000" stroke-width="0.8">Cr</tspan> <tspan x="-509.27" y="22.98" font-family="'Liberation Sans', sans-serif" font-weight="bold" font-size="20.51" textLength="57.31" lengthAdjust="spacingAndGlyphs" stroke="#000" stroke-width="0.45">release</tspan></text>
<line x1="107.60" y1="692.00" x2="107.60" y2="696.80" stroke="#000" stroke-width="1.6" />
<line x1="167.70" y1="692.00" x2="167.70" y2="696.80" stroke="#000" stroke-width="1.6" />
<line x1="232.20" y1="692.00" x2="232.20" y2="696.80" stroke="#000" stroke-width="1.6" />
<line x1="107.80" y1="671.00" x2="107.80" y2="686.00" stroke="#000" stroke-width="1.6" />
<line x1="107.90" y1="635.40" x2="164.20" y2="549.30" stroke="#111" stroke-width="1.0" />
<line x1="164.20" y1="549.30" x2="228.20" y2="501.10" stroke="#111" stroke-width="1.0" />
<line x1="107.90" y1="635.40" x2="107.90" y2="610.70" stroke="#000" stroke-width="1.15" />
<line x1="105.00" y1="610.70" x2="110.80" y2="610.70" stroke="#000" stroke-width="1.25" />
<line x1="164.20" y1="549.30" x2="164.20" y2="521.90" stroke="#000" stroke-width="1.15" />
<line x1="161.30" y1="521.90" x2="167.10" y2="521.90" stroke="#000" stroke-width="1.25" />
<line x1="228.20" y1="501.10" x2="228.20" y2="474.30" stroke="#000" stroke-width="1.15" />
<line x1="225.30" y1="474.30" x2="231.10" y2="474.30" stroke="#000" stroke-width="1.25" />
<ellipse cx="107.9" cy="635.4" rx="5.1" ry="4.7" fill="#fff" stroke="#000" stroke-width="2"/>
<ellipse cx="164.2" cy="549.3" rx="5.1" ry="4.7" fill="#fff" stroke="#000" stroke-width="2"/>
<ellipse cx="228.2" cy="501.1" rx="5.1" ry="4.7" fill="#fff" stroke="#000" stroke-width="2"/>
<line x1="107.60" y1="671.00" x2="167.00" y2="652.00" stroke="#111" stroke-width="1.0" />
<line x1="167.00" y1="652.00" x2="230.70" y2="626.80" stroke="#111" stroke-width="1.0" />
<line x1="107.60" y1="671.00" x2="107.60" y2="661.30" stroke="#000" stroke-width="1.15" />
<line x1="104.70" y1="661.30" x2="110.50" y2="661.30" stroke="#000" stroke-width="1.25" />
<line x1="167.00" y1="652.00" x2="167.00" y2="634.70" stroke="#000" stroke-width="1.15" />
<line x1="164.10" y1="634.70" x2="169.90" y2="634.70" stroke="#000" stroke-width="1.25" />
<line x1="230.70" y1="626.80" x2="230.70" y2="609.30" stroke="#000" stroke-width="1.15" />
<line x1="227.80" y1="609.30" x2="233.60" y2="609.30" stroke="#000" stroke-width="1.25" />
<ellipse cx="107.6" cy="671" rx="5.3" ry="5.6" fill="#000"/>
<ellipse cx="167" cy="652" rx="5.3" ry="5.6" fill="#000"/>
<ellipse cx="230.7" cy="626.8" rx="5.3" ry="5.6" fill="#000"/>
<line x1="108.30" y1="686.60" x2="167.70" y2="683.90" stroke="#2a2a2a" stroke-width="1.0" />
<line x1="167.70" y1="683.90" x2="232.30" y2="683.90" stroke="#2a2a2a" stroke-width="1.0" />
<line x1="167.70" y1="683.90" x2="167.70" y2="675.00" stroke="#000" stroke-width="1.15" />
<line x1="164.80" y1="675.00" x2="170.60" y2="675.00" stroke="#000" stroke-width="1.25" />
<line x1="232.30" y1="683.90" x2="232.30" y2="675.00" stroke="#000" stroke-width="1.15" />
<line x1="229.40" y1="675.00" x2="235.20" y2="675.00" stroke="#000" stroke-width="1.25" />
<ellipse cx="108.3" cy="686.6" rx="5.2" ry="4.6" fill="#fff" stroke="#000" stroke-width="1.9"/>
<path d="M104.1 690.2 L112.5 683.0 A5.8 5.2 0 0 1 104.1 690.2Z" fill="#000"/>
<ellipse cx="167.7" cy="683.9" rx="5.2" ry="4.6" fill="#fff" stroke="#000" stroke-width="1.9"/>
<path d="M163.5 687.5 L171.9 680.3 A5.8 5.2 0 0 1 163.5 687.5Z" fill="#000"/>
<ellipse cx="232.3" cy="683.9" rx="5.2" ry="4.6" fill="#fff" stroke="#000" stroke-width="1.9"/>
<path d="M228.1 687.5 L236.5 680.3 A5.8 5.2 0 0 1 228.1 687.5Z" fill="#000"/>
<line x1="348.50" y1="692.00" x2="348.50" y2="696.60" stroke="#000" stroke-width="1.6" />
<line x1="411.70" y1="692.00" x2="411.70" y2="696.60" stroke="#000" stroke-width="1.6" />
<line x1="472.70" y1="692.00" x2="472.70" y2="696.60" stroke="#000" stroke-width="1.6" />
<line x1="348.40" y1="669.00" x2="348.40" y2="684.00" stroke="#000" stroke-width="1.6" />
<line x1="346.80" y1="596.60" x2="409.00" y2="539.00" stroke="#111" stroke-width="1.0" />
<line x1="409.00" y1="539.00" x2="474.40" y2="532.50" stroke="#111" stroke-width="1.0" />
<line x1="346.80" y1="596.60" x2="346.80" y2="579.00" stroke="#000" stroke-width="1.15" />
<line x1="343.90" y1="579.00" x2="349.70" y2="579.00" stroke="#000" stroke-width="1.25" />
<line x1="409.00" y1="539.00" x2="409.00" y2="510.00" stroke="#000" stroke-width="1.15" />
<line x1="406.10" y1="510.00" x2="411.90" y2="510.00" stroke="#000" stroke-width="1.25" />
<line x1="474.40" y1="532.50" x2="474.40" y2="501.50" stroke="#000" stroke-width="1.15" />
<line x1="471.50" y1="501.50" x2="477.30" y2="501.50" stroke="#000" stroke-width="1.25" />
<ellipse cx="346.8" cy="596.6" rx="5.1" ry="4.7" fill="#fff" stroke="#000" stroke-width="2"/>
<ellipse cx="409" cy="539" rx="5.1" ry="4.7" fill="#fff" stroke="#000" stroke-width="2"/>
<ellipse cx="474.4" cy="532.5" rx="5.1" ry="4.7" fill="#fff" stroke="#000" stroke-width="2"/>
<line x1="348.10" y1="669.50" x2="411.50" y2="645.00" stroke="#111" stroke-width="1.0" />
<line x1="411.50" y1="645.00" x2="476.00" y2="598.50" stroke="#111" stroke-width="1.0" />
<line x1="348.10" y1="669.50" x2="348.10" y2="659.50" stroke="#000" stroke-width="1.15" />
<line x1="345.20" y1="659.50" x2="351.00" y2="659.50" stroke="#000" stroke-width="1.25" />
<line x1="411.50" y1="645.00" x2="411.50" y2="626.00" stroke="#000" stroke-width="1.15" />
<line x1="408.60" y1="626.00" x2="414.40" y2="626.00" stroke="#000" stroke-width="1.25" />
<line x1="476.00" y1="598.50" x2="476.00" y2="577.50" stroke="#000" stroke-width="1.15" />
<line x1="473.10" y1="577.50" x2="478.90" y2="577.50" stroke="#000" stroke-width="1.25" />
<ellipse cx="348.1" cy="669.5" rx="5.3" ry="5.6" fill="#000"/>
<ellipse cx="411.5" cy="645" rx="5.3" ry="5.6" fill="#000"/>
<ellipse cx="476" cy="598.5" rx="5.3" ry="5.6" fill="#000"/>
<line x1="348.80" y1="684.50" x2="412.40" y2="684.00" stroke="#2a2a2a" stroke-width="1.0" />
<line x1="412.40" y1="684.00" x2="473.00" y2="683.00" stroke="#2a2a2a" stroke-width="1.0" />
<line x1="412.40" y1="684.00" x2="412.40" y2="676.40" stroke="#000" stroke-width="1.15" />
<line x1="409.50" y1="676.40" x2="415.30" y2="676.40" stroke="#000" stroke-width="1.25" />
<line x1="473.00" y1="683.00" x2="473.00" y2="674.60" stroke="#000" stroke-width="1.15" />
<line x1="470.10" y1="674.60" x2="475.90" y2="674.60" stroke="#000" stroke-width="1.25" />
<ellipse cx="348.8" cy="684.5" rx="5.2" ry="4.6" fill="#fff" stroke="#000" stroke-width="1.9"/>
<path d="M344.6 688.1 L353.0 680.9 A5.8 5.2 0 0 1 344.6 688.1Z" fill="#000"/>
<ellipse cx="412.4" cy="684" rx="5.2" ry="4.6" fill="#fff" stroke="#000" stroke-width="1.9"/>
<path d="M408.2 687.6 L416.6 680.4 A5.8 5.2 0 0 1 408.2 687.6Z" fill="#000"/>
<ellipse cx="473" cy="683" rx="5.2" ry="4.6" fill="#fff" stroke="#000" stroke-width="1.9"/>
<path d="M468.8 686.6 L477.2 679.4 A5.8 5.2 0 0 1 468.8 686.6Z" fill="#000"/>
</svg></body></html>
